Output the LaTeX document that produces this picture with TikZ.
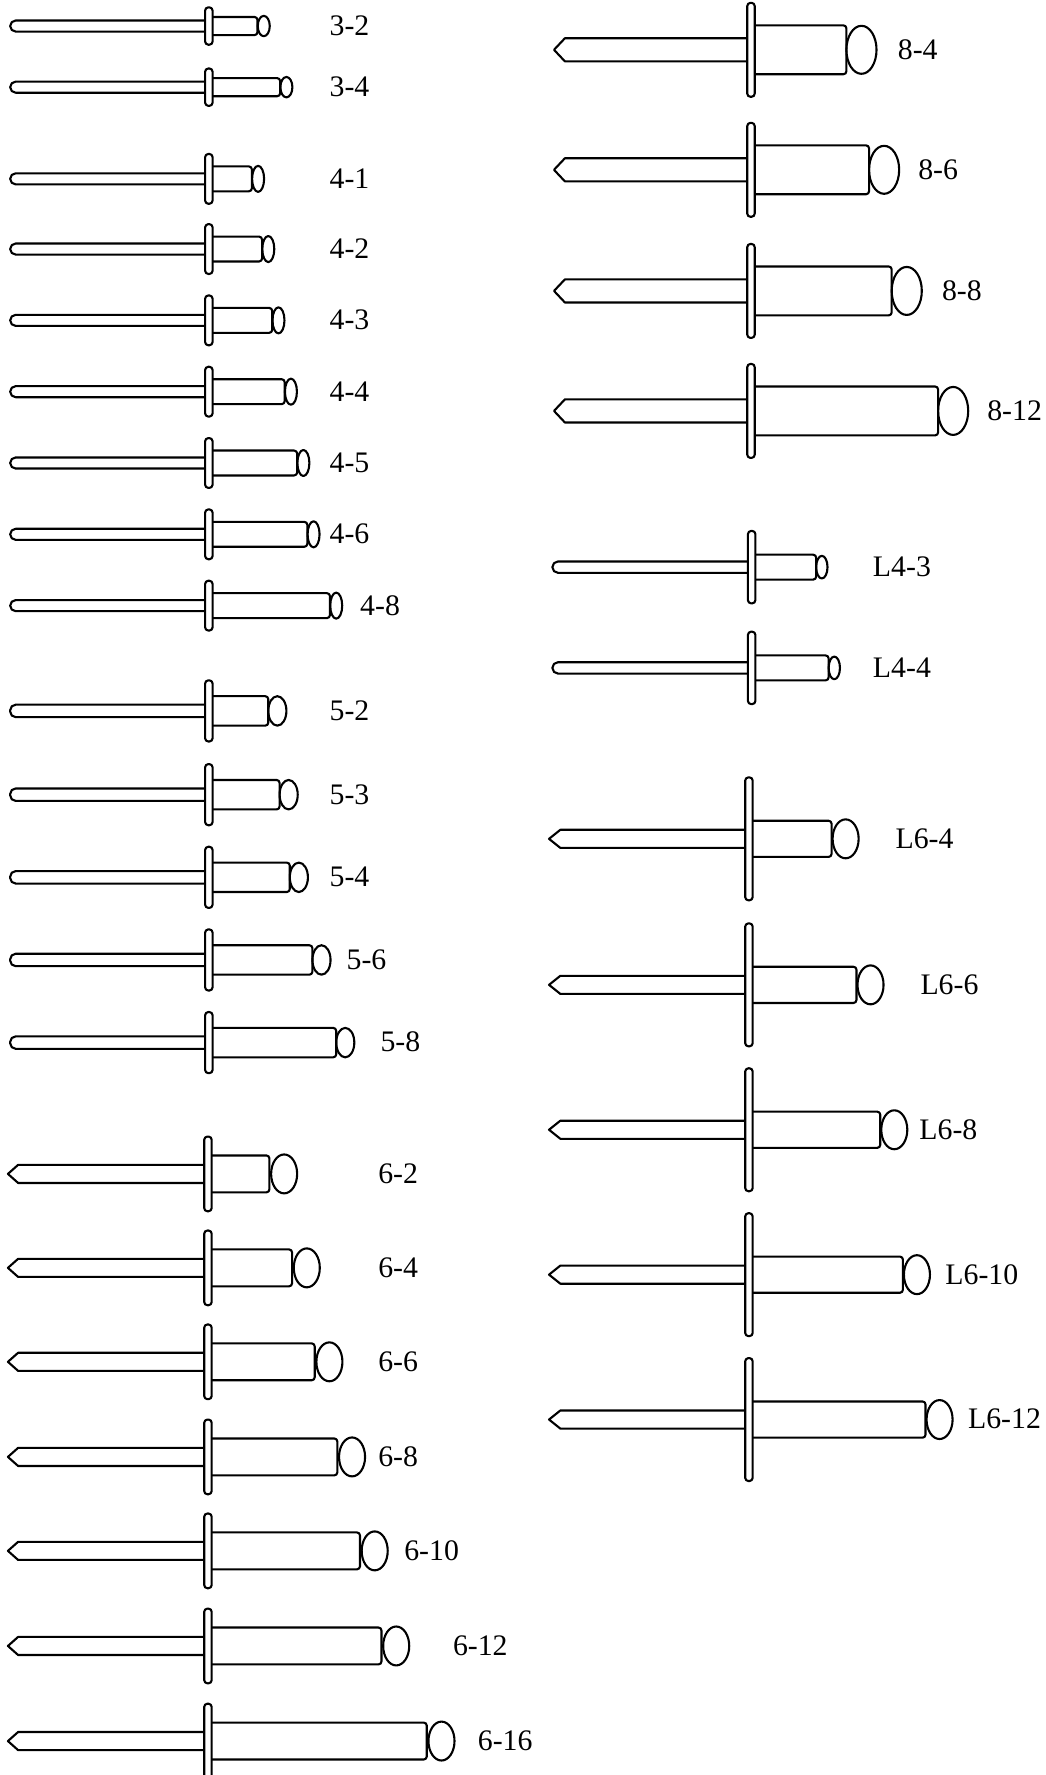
\documentclass[tikz,border=0pt]{standalone}
\usepackage{fontspec}
\setmainfont{Liberation Serif}
\tikzset{
  outline/.style={draw=black,line width=2.1pt,line join=round},
  sizelabel/.style={anchor=base west,inner sep=0pt,font=\fontsize{29.8}{32}\selectfont}
}
\newcommand\setrivet[9]{\def\Rfx{#1}\def\Rfh{#2}\def\Rsh{#3}\def\Rbh{#4}\def\Rrx{#5}\def\Rry{#6}\def\Roff{#7}\def\Rtip{#8}\def\Rshd{#9}}
\newcommand\rivet[4]{% y, ball centre x, label x, text
  \pgfmathsetmacro\Rbe{#2-\Roff}
  \pgfmathsetmacro\Rfl{\Rfx-3.3}
  \pgfmathsetmacro\Rfr{\Rfx+3.3}
  \pgfmathsetmacro\Rst{#1-\Rsh}
  \pgfmathsetmacro\Rsb{#1+\Rsh}
  \pgfmathsetmacro\Rbt{#1-\Rbh}
  \pgfmathsetmacro\Rbb{#1+\Rbh}
  \pgfmathsetmacro\Rft{#1-\Rfh}
  \pgfmathsetmacro\Rfb{#1+\Rfh}
  \pgfmathsetmacro\Rly{#1+8.3}
  \ifdim\Rshd pt=0pt
    \draw[outline,rounded corners=5.5pt] (\Rfl,\Rst) -- (\Rtip,\Rst) -- (\Rtip,\Rsb) -- (\Rfl,\Rsb);
  \else
    \draw[outline] (\Rfl,\Rst) -- (\Rshd,\Rst) -- (\Rtip,#1) -- (\Rshd,\Rsb) -- (\Rfl,\Rsb);
  \fi
  \draw[outline,rounded corners=3pt] (\Rfr,\Rbt) -- (\Rbe,\Rbt) -- (\Rbe,\Rbb) -- (\Rfr,\Rbb);
  \draw[outline] (#2,#1) ellipse [x radius=\Rrx,y radius=\Rry];
  \draw[outline,rounded corners=3.2pt] (\Rfl,\Rft) rectangle (\Rfr,\Rfb);
  \node[sizelabel] (n#4) at (#3,\Rly) {#4};
}
\begin{document}
\begin{tikzpicture}[x=1.13203pt,y=-1.13203pt]
\clip (0,0) rectangle (924,1568);
\useasboundingbox (0,0) rectangle (924,1568);
\setrivet{184.5}{16.5}{4.9}{8}{5.3}{9}{5.5}{9}{0}
\rivet{23}{233}{291}{3-2}
\rivet{77}{253}{291}{3-4}
\setrivet{184.5}{22}{4.9}{11}{5.3}{11.5}{5.5}{9}{0}
\rivet{158}{228}{291}{4-1}
\rivet{220}{237}{291}{4-2}
\rivet{283}{246}{291}{4-3}
\rivet{346}{257}{291}{4-4}
\rivet{409}{268}{291}{4-5}
\rivet{472}{277}{291}{4-6}
\rivet{535}{297}{318}{4-8}
\setrivet{184.5}{27}{5.5}{13}{8}{13}{8}{9}{0}
\rivet{628}{245}{291}{5-2}
\rivet{702}{255}{291}{5-3}
\rivet{775}{264}{291}{5-4}
\rivet{848}{284}{306}{5-6}
\rivet{921}{305}{336}{5-8}
\setrivet{183.7}{33}{8}{16.3}{11.5}{17.2}{13}{7}{16}
\rivet{1037}{251}{334}{6-2}
\rivet{1120}{271}{334}{6-4}
\rivet{1203}{291}{334}{6-6}
\rivet{1287}{311}{334}{6-8}
\rivet{1370}{331}{357}{6-10}
\rivet{1454}{350}{400}{6-12}
\rivet{1538}{390}{422}{6-16}
\setrivet{663.4}{41.5}{10.2}{21.6}{13.3}{21.2}{13.3}{489.4}{499}
\rivet{44}{761}{793}{8-4}
\rivet{150}{781}{811}{8-6}
\rivet{257}{801}{832}{8-8}
\rivet{363}{842}{872}{8-12}
\setrivet{664}{32}{5}{11}{5}{10}{5}{488}{0}
\rivet{501}{726}{771}{L4-3}
\rivet{590}{737}{771}{L4-4}
\setrivet{661.6}{54.3}{8}{16}{11.5}{17.2}{12.4}{485}{495}
\rivet{741}{747}{791}{L6-4}
\rivet{870}{769}{813}{L6-6}
\rivet{998}{790}{812}{L6-8}
\rivet{1126}{810}{835}{L6-10}
\rivet{1254}{830}{855}{L6-12}
\end{tikzpicture}
\end{document}
